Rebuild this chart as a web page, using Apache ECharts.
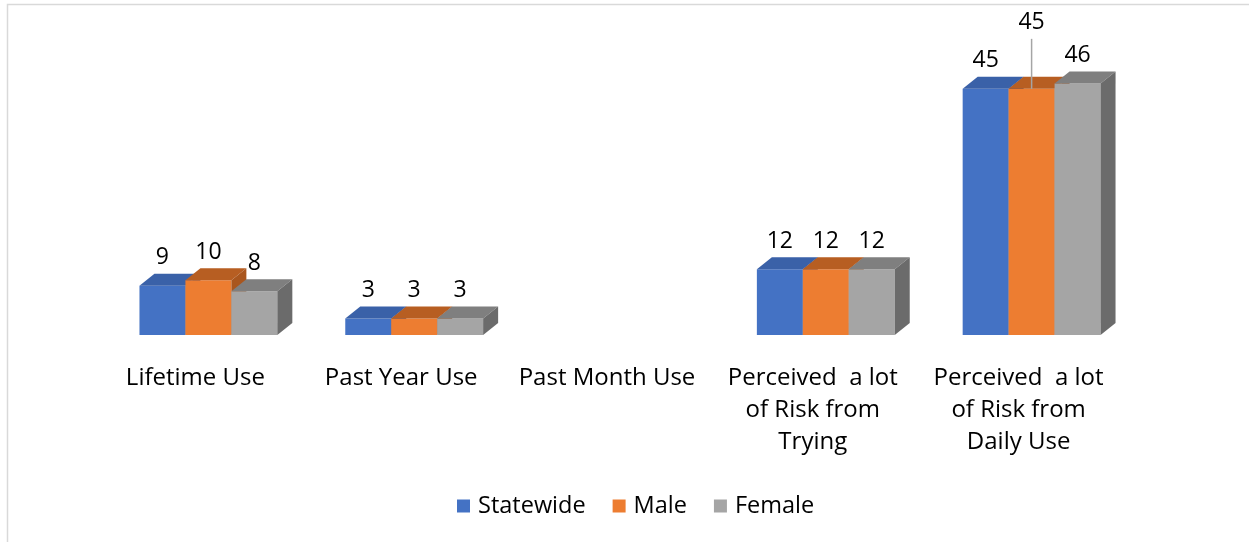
<!DOCTYPE html>
<html><head><meta charset="utf-8">
<script src="https://cdn.jsdelivr.net/npm/echarts@6/dist/echarts.min.js"></script>
<style>html,body{margin:0;padding:0;background:#fff}#c{width:1249px;height:542px}</style>
</head><body><div id="c"></div>
<script>
const categories = ['Lifetime Use', 'Past Year Use', 'Past Month Use', 'Perceived  a lot\nof Risk from\nTrying', 'Perceived  a lot\nof Risk from\nDaily Use'];
const seriesNames = ['Statewide', 'Male', 'Female'];
const statewide = [9, 3, null, 12, 45];
const male = [10, 3, null, 12, 45];
const female = [8, 3, null, 12, 46];
const yTicks = [0, 10, 20, 30, 40, 50];

const FRONT = ['#4472C4', '#ED7D31', '#A5A5A5'];
const TOPC = ['#3A61A8', '#B75E22', '#7F7F7F'];
const SIDEC = ['#2F5597', '#A9561E', '#6B6B6B'];
const DX = 15, DY = 12, BAR_FRAC = 0.2233;
const FONT = 'Open Sans';
// label called out above with a leader line (series index, category index)
const lifted = [[1, 4]];

function makeRender(si) {
  return function (params, api) {
    const v = api.value(1);
    if (v === null || v === undefined || isNaN(v)) return;
    const ci = api.value(0);
    const base = api.coord([ci, 0]);
    const top = api.coord([ci, v]);
    const bandW = api.size([1, 0])[0];
    const bw = bandW * BAR_FRAC;
    const x0 = base[0] - bw * 1.5 + si * bw;
    const yt = top[1], yb = base[1];
    const children = [
      { type: 'rect', shape: { x: x0, y: yt, width: bw, height: yb - yt }, style: { fill: FRONT[si] } },
      { type: 'polygon', shape: { points: [[x0, yt], [x0 + bw, yt], [x0 + bw + DX, yt - DY], [x0 + DX, yt - DY]] }, style: { fill: TOPC[si] } },
      { type: 'polygon', shape: { points: [[x0 + bw, yt], [x0 + bw + DX, yt - DY], [x0 + bw + DX, yb - DY], [x0 + bw, yb]] }, style: { fill: SIDEC[si] } }
    ];
    const cx = x0 + bw / 2;
    const isLifted = lifted.some(p => p[0] === si && p[1] === params.dataIndex);
    let ly = yt - DY - 16;
    if (isLifted) {
      ly = yt - 66;
      children.push({ type: 'line', shape: { x1: cx, y1: ly + 16, x2: cx, y2: yt }, style: { stroke: '#A5A5A5', lineWidth: 1.5 } });
    }
    children.push({ type: 'text', style: { x: cx, y: ly, text: String(v), fill: '#000', font: '23px "' + FONT + '"', align: 'center', verticalAlign: 'middle' } });
    return { type: 'group', children: children };
  };
}

const datas = [statewide, male, female];
const chart = echarts.init(document.getElementById('c'), null, { renderer: 'canvas' });
chart.setOption({
  animation: false,
  backgroundColor: '#fff',
  textStyle: { fontFamily: FONT },
  graphic: [
    { type: 'polyline', shape: { points: [[7.5, 542], [7.5, 4.5], [1249, 4.5]] }, style: { stroke: '#D9D9D9', lineWidth: 1.5, fill: null } }
  ],
  grid: { left: 105.5, right: 114.5, top: 61.5, bottom: 207 },
  legend: {
    left: 457, top: 494, padding: 0,
    itemWidth: 13, itemHeight: 13, itemGap: 27,
    icon: 'rect',
    data: seriesNames,
    textStyle: { fontSize: 23.5, color: '#000', fontFamily: FONT, padding: [0, 0, 0, 3] }
  },
  xAxis: {
    type: 'category', data: categories,
    axisLine: { show: false }, axisTick: { show: false },
    axisLabel: { fontSize: 24, color: '#000', lineHeight: 32, margin: 27, interval: 0, padding: [0, 26, 0, 0], fontFamily: FONT }
  },
  yAxis: { type: 'value', min: 0, max: 50, interval: 10, show: false, splitLine: { show: false } },
  series: seriesNames.map((n, si) => ({
    type: 'custom', name: n,
    renderItem: makeRender(si),
    itemStyle: { color: FRONT[si] },
    encode: { x: 0, y: 1 },
    data: datas[si].map((v, i) => [i, v === null ? '-' : v])
  }))
});
</script></body></html>
